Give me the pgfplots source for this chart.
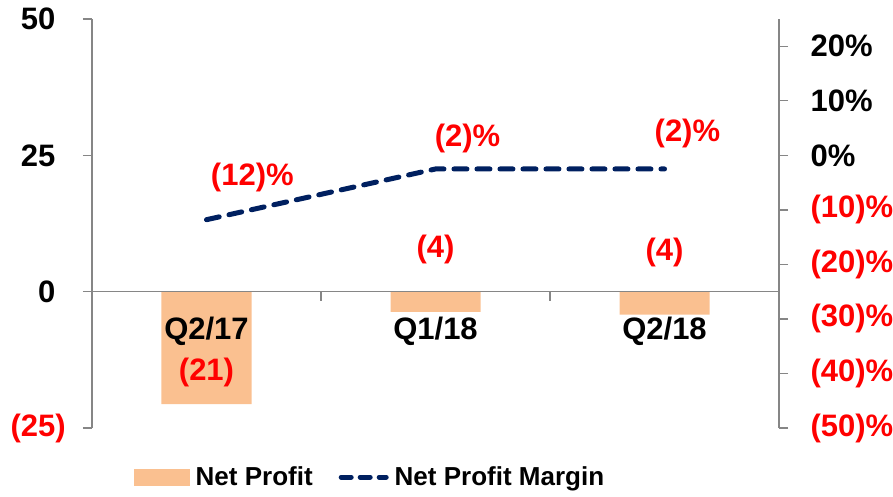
\documentclass[border=0pt]{standalone}
\usepackage{fontspec}
\setmainfont{Liberation Sans}
\usepackage{pgfplots}
\pgfplotsset{compat=1.18}
\definecolor{barorange}{HTML}{FAC090}
\definecolor{navy}{HTML}{002060}
\definecolor{axisgray}{HTML}{868686}
\definecolor{lblred}{HTML}{FF0000}
\newcommand{\bigfont}{\fontsize{31}{34}\selectfont\bfseries}
\newcommand{\legfont}{\fontsize{26}{28}\selectfont\bfseries}

\begin{document}
\begin{tikzpicture}
\pgfplotsset{
  base/.style={
    scale only axis, width=687pt, height=409pt,
    xmin=-0.5, xmax=2.5,
    axis on top,
    tick label style={font=\bigfont},
    /pgf/number format/assume math mode=true,
    tick align=outside, major tick length=9pt, minor tick length=9pt,
    every tick/.style={axisgray, line width=1.3pt},
    axis line style={axisgray, line width=1.3pt},
  }
}
% left axis: net profit bars
\begin{axis}[base,
  ymin=-25, ymax=50,
  axis y line*=left, axis x line*=middle,
  ytick={-25,0,25,50},
  yticklabels={\textcolor{lblred}{(25\rlap{)}}, 0, 25, 50},
  yticklabel style={xshift=-24pt},
  xtick={0,1,2}, xticklabels={Q2/17,Q1/18,Q2/18},
  major x tick style={draw=none},
  minor xtick={0.5,1.5},
  xticklabel style={yshift=-13pt},
]
\addplot[ybar, bar width=90pt, fill=barorange, draw=none]
  coordinates {(0,-20.6) (1,-3.7) (2,-4.2)};
\addplot[draw=none, mark=none, nodes near coords, point meta=explicit symbolic,
  nodes near coords style={anchor=center, text=lblred, font=\bigfont}]
  coordinates {(0,-14.8) [(21)] (1,7.7) [(4)] (2,7.1) [(4)]};
\end{axis}
% right axis: net profit margin line
\begin{axis}[base,
  ymin=-50, ymax=25,
  axis y line*=right, axis x line=none,
  ytick={-50,-40,-30,-20,-10,0,10,20},
  yticklabels={\textcolor{lblred}{(50)\%},\textcolor{lblred}{(40)\%},\textcolor{lblred}{(30)\%},
    \textcolor{lblred}{(20)\%},\textcolor{lblred}{(10)\%},0\%,10\%,20\%},
  yticklabel style={anchor=west, xshift=19pt},
  legend columns=2,
  legend style={at={(0.405,-0.12)}, anchor=center, draw=none, fill=none,
    font=\legfont,
    /tikz/every odd column/.append style={column sep=4pt},
    /tikz/every even column/.append style={column sep=24pt}},
]
\addlegendimage{legend image code/.code={\fill[barorange] (0pt,-8pt) rectangle (55pt,8pt);}}
\addlegendentry{Net Profit}
\addplot[navy, line width=5pt, dash pattern=on 13pt off 10pt, line cap=round,
  legend image code/.code={\draw[navy, line width=5pt, dash pattern=on 10pt off 9pt, line cap=round] (2.5pt,0pt) -- (47.5pt,0pt);}]
  coordinates {(0,-11.8) (1,-2.5) (2,-2.5)};
\addlegendentry{Net Profit Margin}
\addplot[draw=none, mark=none, forget plot, nodes near coords, point meta=explicit symbolic,
  nodes near coords style={anchor=center, text=lblred, font=\bigfont}]
  coordinates {(0.2,-4.0) [(12)\%] (1.14,3.1) [(2)\%] (2.1,4.0) [(2)\%]};
\end{axis}
\pgfresetboundingbox
\path[use as bounding box] (-92pt,-68pt) rectangle (801pt,428pt);
\end{tikzpicture}
\end{document}
